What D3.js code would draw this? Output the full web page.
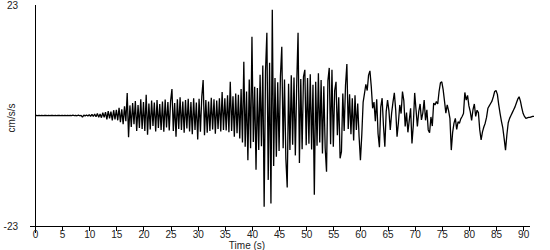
<!DOCTYPE html>
<html>
<head>
<meta charset="utf-8">
<script src="https://cdn.jsdelivr.net/npm/d3@7"></script>
<style>
  body { margin: 0; background: #fff; }
  text { font-family: "Liberation Sans", Arial, sans-serif; font-size: 10px; fill: #222; }
</style>
</head>
<body>
<div id="chart"></div>
<script>
// Define SVG area dimensions
var svgWidth = 550;
var svgHeight = 250;

// sample spacing of the record (s)
var dt = 0.25;

// acceleration in cm/s/s, one value every dt
var accel = [
  // 0 - 5 s
  0, 0.02, -0.02, 0.02, -0.02, 0.03, -0.02, 0, 0.02, -0.02, 0.02, -0.03, 0.02, 0, -0.02, 0.03, -0.02, 0.02, 0, -0.03,
  // 5 - 10 s
  0.03, -0.04, 0.05, -0.03, 0.04, -0.05, 0.04, -0.03, 0.06, -0.05, 0.04, -0.06, 0.08, -0.06, 0.05, -0.35, 0.07, -0.08, 0.1, -0.12,
  // 10 - 15 s
  0.15, -0.2, 0.25, -0.2, 0.3, -0.25, 0.4, -0.35, 0.3, -0.45, 0.6, -0.4, 0.7, -0.8, 0.9, -0.6, 0.8, -1.0, 1.1, -0.8,
  // 15 - 20 s
  1.2, -1.0, 1.6, -1.4, 1.3, -1.8, 1.9, -1.2, 4.7, -4.5, 2.1, -2.4, 2.6, -1.8, 3.0, -3.2, 2.2, -2.6, 3.4, -2.8,
  // 20 - 25 s
  2.8, -3.2, 4.3, -4.0, 2.5, -2.9, 3.1, -2.2, 2.7, -3.3, 3.2, -2.6, 2.4, -3.0, 2.9, -3.4, 3.3, -2.5, 2.8, -3.1,
  // 25 - 30 s
  3.0, 5.5, -3.2, 2.6, -4.4, 3.4, -2.8, 3.8, -3.0, 2.9, -3.6, 3.2, -2.7, 3.5, -3.3, 2.8, -3.9, 3.6, -3.0, 2.7,
  // 30 - 35 s
  -5.0, 3.5, -3.4, 3.9, 7.4, -4.1, 3.2, -3.6, 2.9, -3.2, 3.7, -2.9, 3.4, -3.8, 3.1, -2.8, 3.6, -3.3, 4.9, -3.0,
  // 35 - 40 s
  3.6, -3.1, 4.2, -3.5, 7.0, -3.2, 4.0, -4.4, 4.6, -3.7, 4.3, -4.8, 5.5, -5.6, 11.2, -6.5, 5.0, -9.3, 7.5, -6.8,
  // 40 - 45 s
  16.4, -5.5, 6.0, -11.3, 5.7, -7.2, 8.5, -6.4, 10.4, -19.0, 9.2, 17.2, -13.4, 11.0, -18.3, 22.0, -10.5, 7.8, -8.6, 6.9,
  // 45 - 50 s
  -7.4, 8.2, 14.3, -6.8, 7.5, -9.0, -15.0, 6.6, -7.2, 8.4, -6.1, 7.9, -8.3, 6.5, 17.2, -9.9, 7.6, -7.0, 8.1, 9.5,
  // 50 - 55 s
  -6.2, 7.8, -5.9, 8.6, -7.1, 6.4, -16.5, 7.0, -6.3, 8.8, -5.6, 7.4, -7.9, 6.1, -6.8, -11.7, 7.2, 9.9, -6.0, 9.5,
  // 55 - 60 s
  -6.5, 5.2, 7.0, -4.1, 3.8, -8.9, -7.5, 4.6, -3.2, 6.3, 10.7, -2.8, 4.4, -3.9, 3.6, -5.2, 4.2, -3.0, 2.5, -4.4,
  // 60 - 65 s
  -9.3, -4.0, 2.8, 4.6, 6.5, 5.2, 8.4, 9.3, 6.0, 1.5, 2.8, -1.2, 3.4, -3.8, -6.6, 1.8, 3.6, -2.2, -6.5, 0.8,
  // 65 - 70 s
  3.2, 1.0, -3.0, 0.5, 2.8, 4.7, 1.2, -4.4, -1.5, 2.2, 0.4, 5.0, 3.1, -2.3, 0.6, -3.5, -1.0, 1.5, -5.8, -2.0,
  // 70 - 75 s
  4.7, 1.2, -2.3, 0.8, 2.4, -0.9, 0.5, 3.2, -1.0, 1.2, -3.0, -3.6, -0.3, -2.2, 2.6, 2.2, 2.9, 2.4, 5.0, 6.8,
  // 75 - 80 s
  7.0, 5.4, 3.0, 0.5, 2.2, 1.0, -0.6, -7.2, -3.5, -1.6, -0.6, -2.9, -1.3, -1.6, -0.7, -0.2, 0.4, 4.8, 3.2, 4.2,
  // 80 - 85 s
  2.0, 0.8, -1.0, 1.2, 2.4, -0.2, 1.1, 0.6, -3.0, -5.1, -3.4, -2.4, -1.6, -0.4, 1.5, 2.0, 2.5, 3.0, 3.9, 5.0,
  // 85 - 92 s
  5.2, 4.4, 2.2, 0.4, -1.2, -2.6, -4.8, -7.2, -4.0, -1.5, -0.6, 0.0, 0.6, 1.2, 1.8, 2.6, 3.4, 3.9, 3.0, 1.6,
  0.4, -0.2, -0.6, -0.5, -0.4, -0.4, -0.3, -0.2, -0.2
];

// axis ticks
var xTicks = [0, 5, 10, 15, 20, 25, 30, 35, 40, 45, 50, 55, 60, 65, 70, 75, 80, 85, 90];
var yMax = 23;

var data = accel.map(function(v, i) {
  return { t: i * dt, a: v };
});

var svg = d3.select("#chart")
  .append("svg")
  .attr("width", svgWidth)
  .attr("height", svgHeight);

var xScale = d3.scaleLinear()
  .domain([0, 92])
  .range([35, 534]);

var yScale = d3.scaleLinear()
  .domain([-yMax, yMax])
  .range([226, 5]);

// y axis line runs a bit past the x axis
svg.append("line")
  .attr("x1", xScale(0)).attr("x2", xScale(0))
  .attr("y1", yScale(yMax)).attr("y2", 233)
  .attr("stroke", "#000")
  .attr("shape-rendering", "crispEdges");

// x axis with ticks pointing down
var bottomAxis = d3.axisBottom(xScale)
  .tickValues(xTicks)
  .tickSize(5)
  .tickPadding(0)
  .tickFormat(d3.format("d"));

var xAxis = svg.append("g")
  .attr("transform", `translate(0, ${yScale(-yMax)})`)
  .call(bottomAxis);

xAxis.select(".domain").remove();
xAxis.selectAll("line").attr("shape-rendering", "crispEdges");
xAxis.selectAll("text")
  .style("font-family", "'Liberation Sans', Arial, sans-serif")
  .style("font-size", "10px")
  .attr("fill", "#222");

svg.append("line")
  .attr("x1", 30).attr("x2", 530)
  .attr("y1", yScale(-yMax)).attr("y2", yScale(-yMax))
  .attr("stroke", "#000")
  .attr("shape-rendering", "crispEdges");

// y limits as labels
svg.append("text")
  .attr("x", 18)
  .attr("y", yScale(yMax) + 4)
  .attr("text-anchor", "end")
  .text(yMax);

svg.append("text")
  .attr("x", 18)
  .attr("y", yScale(-yMax) + 4)
  .attr("text-anchor", "end")
  .text(-yMax);

// axis titles
svg.append("text")
  .attr("transform", "translate(15, 118) rotate(-90)")
  .attr("text-anchor", "middle")
  .text("cm/s/s");

svg.append("text")
  .attr("x", 247)
  .attr("y", 249)
  .attr("text-anchor", "middle")
  .text("Time (s)");

// the trace
var line = d3.line()
  .x(d => xScale(d.t))
  .y(d => yScale(d.a));

svg.append("path")
  .datum(data)
  .attr("d", line)
  .attr("fill", "none")
  .attr("stroke", "#000")
  .attr("stroke-width", 1.3)
  .attr("stroke-linejoin", "bevel");
</script>
</body>
</html>
